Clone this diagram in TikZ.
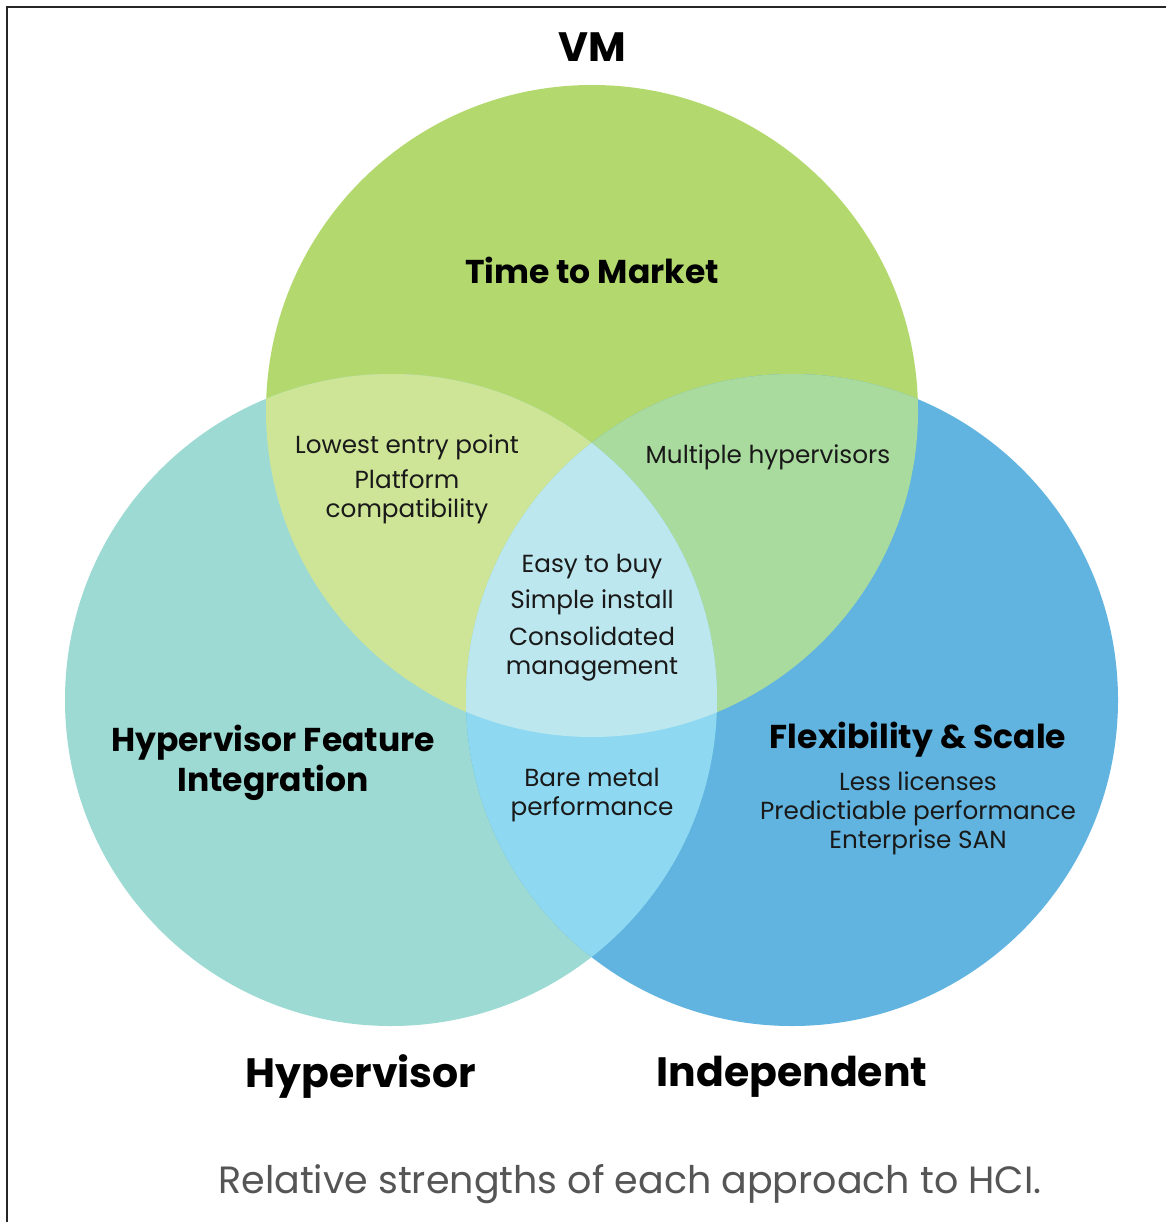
\documentclass[tikz,border=0pt]{standalone}
\usepackage{fontspec}
\setmainfont{Poppins}
\definecolor{cTop}{HTML}{B3D96E}
\definecolor{cLeft}{HTML}{9CDAD3}
\definecolor{cRight}{HTML}{61B4E0}
\definecolor{cTL}{HTML}{CEE597}
\definecolor{cTR}{HTML}{A9DA9E}
\definecolor{cLR}{HTML}{8ED9F1}
\definecolor{cAll}{HTML}{BDE7EE}
\definecolor{capgray}{HTML}{555555}
\begin{document}
\begin{tikzpicture}[x=1pt,y=-1pt,
  big/.style={font=\fontsize{41}{44}\selectfont\bfseries, text=black},
  head/.style={font=\fontsize{33}{40}\selectfont\bfseries, text=black, align=center},
  body/.style={font=\fontsize{24.7}{29}\selectfont, text=black!90, align=center},
  captext/.style={font=\fontsize{38}{44}\selectfont, text=capgray}]
\useasboundingbox (0,0) rectangle (1166,1222);
\fill[white] (0,0) rectangle (1166,1222);
\def\rr{326}
\coordinate (cT) at (592,411);
\coordinate (cL) at (391,700);
\coordinate (cR) at (792,700);
\fill[cTop] (cT) circle[radius=\rr];
\fill[cLeft] (cL) circle[radius=\rr];
\fill[cRight] (cR) circle[radius=\rr];
\begin{scope}
  \clip (cT) circle[radius=\rr];
  \fill[cTL] (cL) circle[radius=\rr];
  \fill[cTR] (cR) circle[radius=\rr];
\end{scope}
\begin{scope}
  \clip (cL) circle[radius=\rr];
  \fill[cLR] (cR) circle[radius=\rr];
  \clip (cR) circle[radius=\rr];
  \fill[cAll] (cT) circle[radius=\rr];
\end{scope}
\draw[line width=2.5pt, black!85] (7,1222) -- (7,7) -- (1166,7);
% titles
\node[big] (vm) at (592,47) {VM};
\node[big] (hyp) at (361,1077) {Hypervisor};
\node[big] (ind) at (792,1077) {Independent};
\node[captext] (caption) at (630,1184) {Relative strengths of each approach to HCI.};
% region texts
\node[head] (ttm) at (592,270) {Time to Market};
\node[head] (hfi) at (273,763) {Hypervisor Feature\\Integration};
\node[head] (fs) at (918,740) {Flexibility \& Scale};
\node[body] (low) at (407,447) {Lowest entry point};
\node[body] (plat) at (407,497) {Platform\\compatibility};
\node[body] (multi) at (768,457) {Multiple hypervisors};
\node[body] (easy) at (592,567) {Easy to buy};
\node[body] (simple) at (592,602) {Simple install};
\node[body] (cons) at (592,654) {Consolidated\\management};
\node[body] (bare) at (592,795) {Bare metal\\performance};
\node[body] (less) at (918,813) {Less licenses\\Predictiable performance\\Enterprise SAN};
\end{tikzpicture}
\end{document}
